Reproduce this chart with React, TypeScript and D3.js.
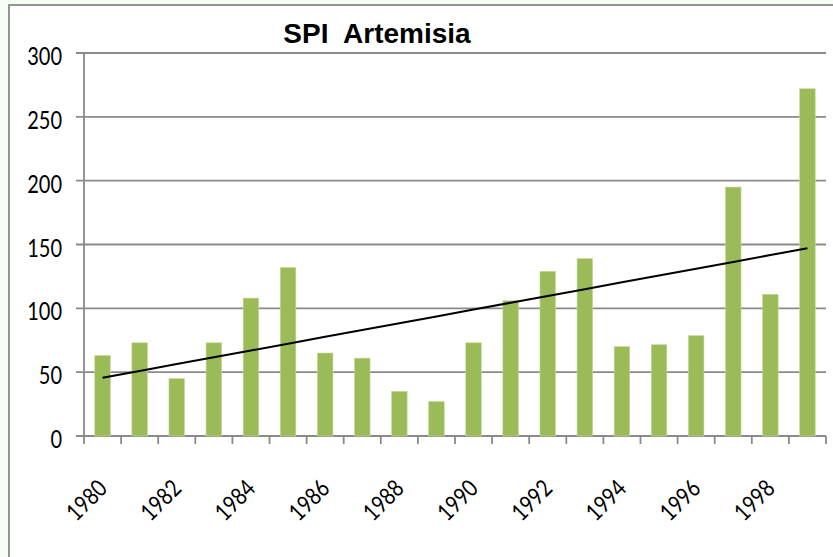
import React from "react";
import * as d3 from "d3";

const years: number[] = [1980,1981,1982,1983,1984,1985,1986,1987,1988,1989,1990,1991,1992,1993,1994,1995,1996,1997,1998,1999];
const spi: number[] = [63,73,45,73,108,132,65,61,35,27,73,106,129,139,70,71.5,78.6,195,111,272];
const yTicks: number[] = [0,50,100,150,200,250,300];
const xLabelYears: number[] = [1980,1982,1984,1986,1988,1990,1992,1994,1996,1998];
const title = "SPI  Artemisia";

const W = 833, H = 557;
const left = 84, right = 826, top = 53, bottom = 436;

export default function App() {
  const x = d3.scaleBand<number>().domain(years).range([left, right]).paddingInner(0.58).paddingOuter(0.29);
  const y = d3.scaleLinear().domain([0, 300]).range([bottom, top]);
  const step = x.step();
  const center = (yr: number) => (x(yr) as number) + x.bandwidth() / 2;

  // least squares trendline
  const n = spi.length;
  const idx = d3.range(n);
  const mx = d3.mean(idx) as number;
  const my = d3.mean(spi) as number;
  const slope = d3.sum(idx, (i) => (i - mx) * (spi[i] - my)) / d3.sum(idx, (i) => (i - mx) ** 2);
  const icpt = my - slope * mx;
  const trend = d3.line<number>().x((i) => center(years[i])).y((i) => y(icpt + slope * i));

  const gridColor = "#8a8a8a";
  const boundaries = d3.range(years.length + 1).map((i) => left + i * step);
  const labelFont = "Lato, 'Open Sans', sans-serif";

  return (
    <svg width={W} height={H} style={{ position: "absolute", left: 0, top: 0 }}>
      <rect x={0} y={0} width={W} height={H} fill="#f6fdf4" />
      <rect x={9} y={5} width={W} height={H} fill="#ffffff" stroke="#949494" strokeWidth={2} />
      <text x={377} y={43} textAnchor="middle" fontFamily="'Liberation Sans', Arial, sans-serif" fontWeight="bold" fontSize={28} fill="#000" style={{ whiteSpace: "pre" }}>{title}</text>
      {yTicks.map((t) => (
        <g key={t}>
          <line x1={76} x2={right} y1={y(t)} y2={y(t)} stroke={gridColor} strokeWidth={1.8} />
          <g transform={`translate(62,${y(t) + 12}) scale(1,1.25)`}>
            <text textAnchor="end" fontFamily={labelFont} fontSize={20} fill="#000">{t}</text>
          </g>
        </g>
      ))}
      <line x1={left} x2={left} y1={top} y2={bottom} stroke={gridColor} strokeWidth={1.8} />
      {boundaries.map((bx, i) => (
        <line key={i} x1={bx} x2={bx} y1={bottom} y2={bottom + 8} stroke={gridColor} strokeWidth={1.8} />
      ))}
      {years.map((yr, i) => (
        <rect key={yr} x={x(yr)} y={y(spi[i])} width={x.bandwidth()} height={bottom - y(spi[i])} fill="#9bbb59" stroke="#c5dc9a" strokeWidth={0.6} />
      ))}
      <path d={trend(idx) || ""} fill="none" stroke="#000" strokeWidth={2} />
      {xLabelYears.map((yr) => (
        <g key={yr} transform={`translate(${center(yr) + 6},${490}) rotate(-45) scale(0.82,1)`}>
          <text textAnchor="end" fontFamily={labelFont} fontSize={24} fill="#000">{yr}</text>
        </g>
      ))}
    </svg>
  );
}
